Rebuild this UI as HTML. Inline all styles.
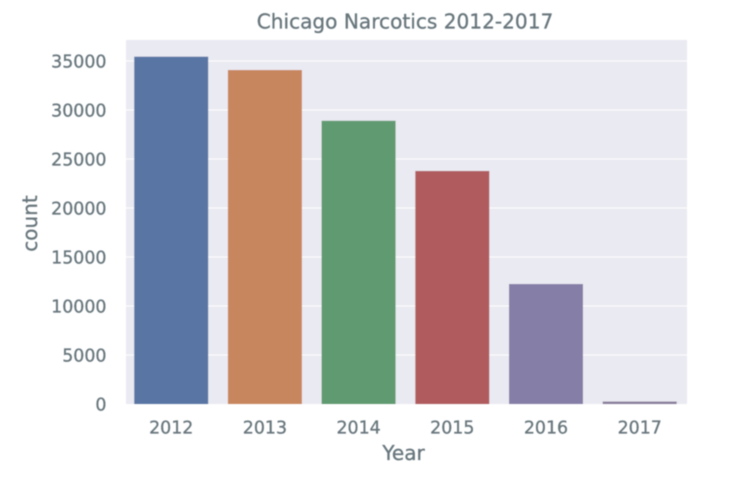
<!DOCTYPE html>
<html>
<head>
<meta charset="utf-8">
<style>
html,body{margin:0;padding:0;background:#fff;width:754px;height:492px;overflow:hidden}
svg{display:block;position:absolute;left:0;top:0}
text{font-family:"DejaVu Sans","Liberation Sans",sans-serif;fill:#67767c;stroke:#67767c;stroke-width:0.3px}
</style>
</head>
<body>
<svg id="chart" width="754" height="492" viewBox="0 0 754 492" xmlns="http://www.w3.org/2000/svg">
<defs><filter id="soft" x="-5%" y="-5%" width="110%" height="110%"><feGaussianBlur stdDeviation="0.4"/></filter></defs>
<g id="root" filter="url(#soft)"></g>
</svg>
<script>
const categories = ['2012','2013','2014','2015','2016','2017'];
const counts = [35440,34080,28900,23780,12245,250];
const yTicks = [0,5000,10000,15000,20000,25000,30000,35000];
const barColors = ['#5874a3','#c8865e','#619a70','#b05b5e','#857fa8','#8a7f9c'];

const plot = {left:126,right:687,top:40,bottom:404};
const yScale = v => plot.bottom - v * (343 / 35000);
const xCenter = i => 171.2 + i * 93.7;
const barWidth = 74;
const root = document.getElementById('root');
const NS = 'http://www.w3.org/2000/svg';

function make(tag, attrs, text){
  const el = document.createElementNS(NS, tag);
  for (const k in attrs) el.setAttribute(k, attrs[k]);
  if (text !== undefined) el.textContent = text;
  root.appendChild(el);
  return el;
}

const bg = make('rect',{x:plot.left,y:plot.top,width:plot.right-plot.left,height:plot.bottom-plot.top,fill:'#eaeaf2'});



yTicks.forEach(t => {
  if (t > 0) {
    const g = make('line',{x1:plot.left,x2:plot.right,y1:yScale(t),y2:yScale(t),stroke:'#fff','stroke-width':1});
    
    
  }
  const l = make('text',{x:106.5,y:yScale(t)+6.5,'text-anchor':'end','font-size':17.4}, String(t));
  
  
});

categories.forEach((c,i) => {
  const y = yScale(counts[i]);
  const b = make('rect',{x:xCenter(i)-barWidth/2,y:y,width:barWidth,height:plot.bottom-y,fill:barColors[i]});
  
  
  const l = make('text',{x:xCenter(i),y:433.5,'text-anchor':'middle','font-size':17.4}, c);
  
  
});

const title = make('text',{x:405,y:28.5,'text-anchor':'middle','font-size':20.1},'Chicago Narcotics 2012-2017');



const xTitle = make('text',{x:403.5,y:460,'text-anchor':'middle','font-size':20},'Year');



const yTitle = make('text',{x:0,y:0,'text-anchor':'middle','font-size':20,transform:'translate(37,223.5) rotate(-90)'},'count');


</script>
</body>
</html>
